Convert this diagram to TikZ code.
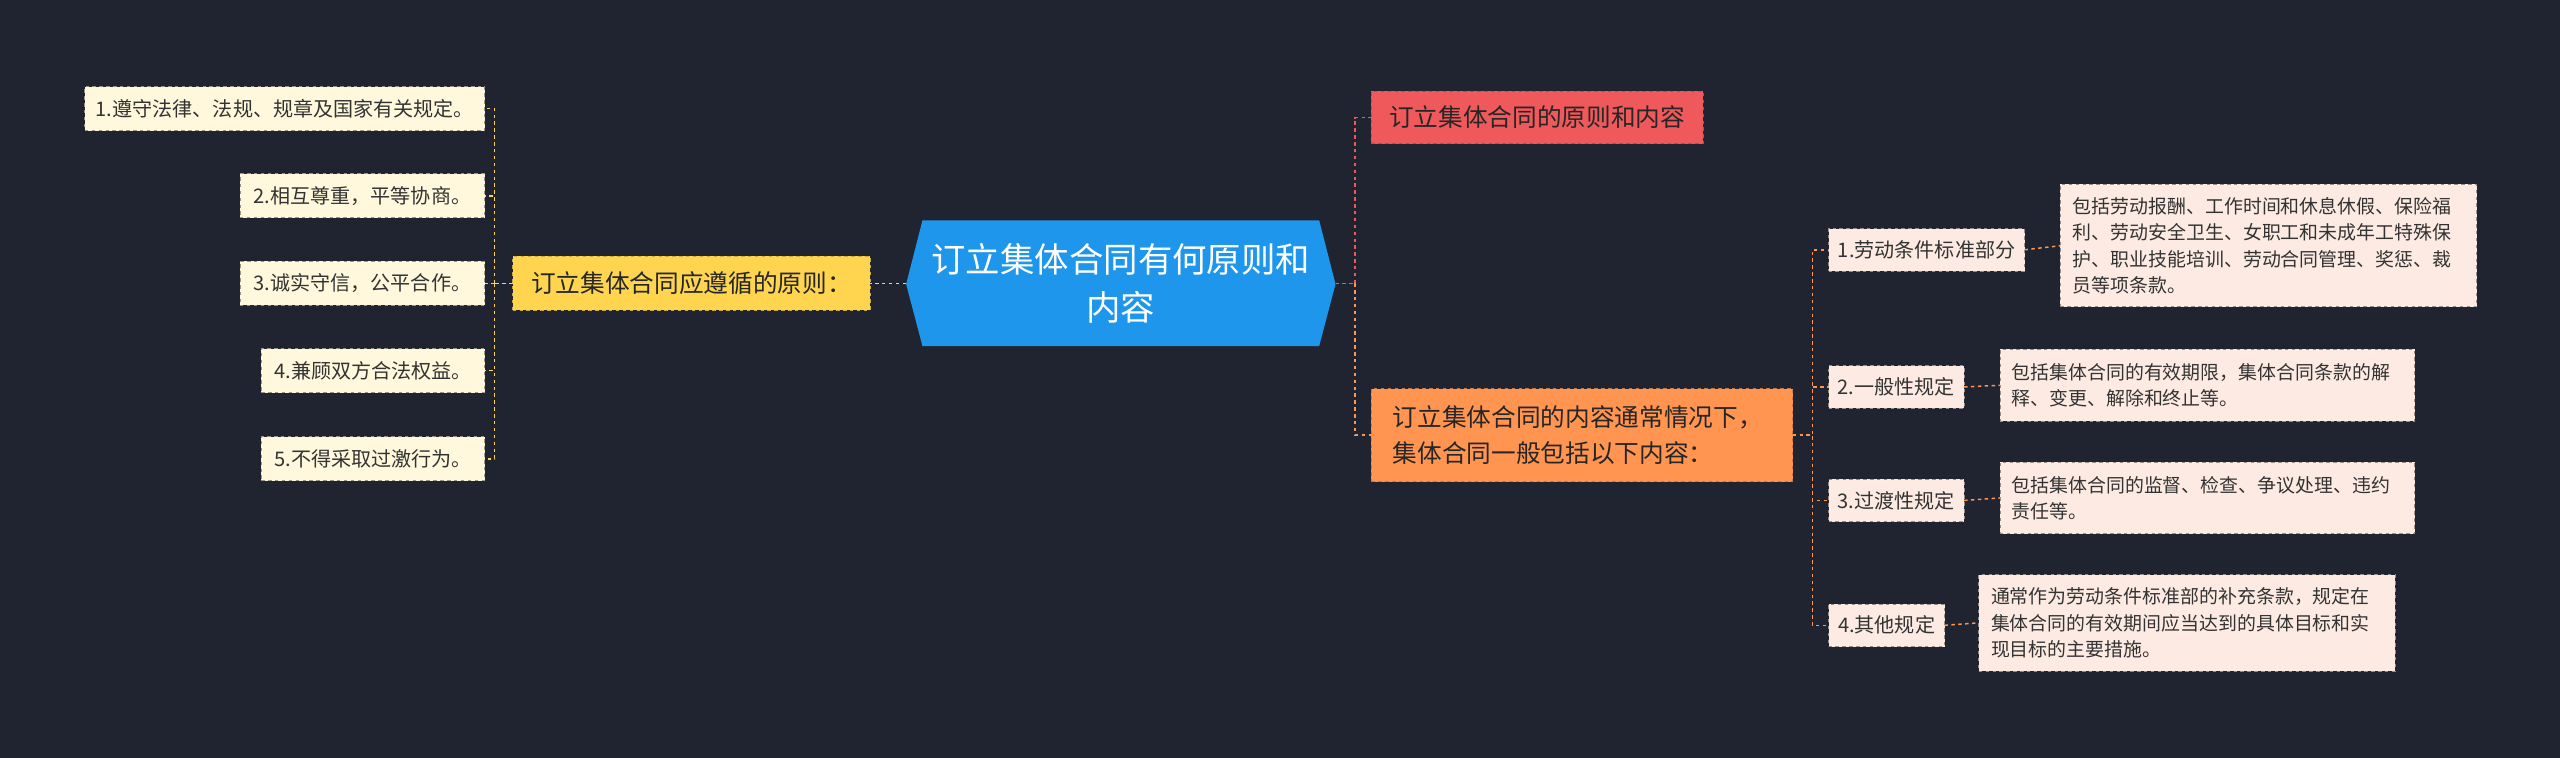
\documentclass[tikz,border=0pt]{standalone}
\usepackage{fontspec}
\newfontfamily\cjk{Noto Sans CJK SC}
\begin{document}
\begin{tikzpicture}[x=0.05cm,y=-0.05cm,
  every node/.style={font=\cjk, inner sep=0pt, outer sep=0pt},
  sz/.style 2 args={minimum width=#1*0.05cm, minimum height=#2*0.05cm},
  leaf/.style={draw=#1!60!black, fill=#1, dashed, line width=0.8pt, text=black!80, font=\cjk\fontsize{17.5pt}{22pt}\selectfont},
  lvl/.style={fill=#1, font=\cjk\fontsize{21.5pt}{32pt}\selectfont, text=black!85, align=left, draw=#1!80!black, dashed},
  conn/.style={draw=#1, dashed, line width=1.3pt}]
\definecolor{bg}{HTML}{1F2430}
\definecolor{lyel}{HTML}{FFF8DC}
\definecolor{yel}{HTML}{FFD54F}
\definecolor{blu}{HTML}{1E96EB}
\definecolor{red}{HTML}{F0595C}
\definecolor{ora}{HTML}{FF9550}
\definecolor{pink}{HTML}{FDEBE3}
\fill[bg] (0,0) rectangle (1568,464);
\useasboundingbox (0,0) rectangle (1568,464);
% center
\fill[blu] (555,174)--(565,135)--(808,135)--(818,174)--(808,212)--(565,212)--cycle;
\node[text=white, align=center, font=\cjk\fontsize{30pt}{42pt}\selectfont, sz={263}{77}] (c) at (686.5,173.5) {订立集体合同有何原则和\\内容};
% left
\node[lvl=yel, sz={219}{33}] (L) at (423.5,173.5) {订立集体合同应遵循的原则：};
\node[leaf=lyel, sz={245}{27}] (l1) at (174.5,66.5) {1.遵守法律、法规、规章及国家有关规定。};
\node[leaf=lyel, sz={150}{27}] (l2) at (222,120) {2.相互尊重，平等协商。};
\node[leaf=lyel, sz={150}{27}] (l3) at (222,173.5) {3.诚实守信，公平合作。};
\node[leaf=lyel, sz={137}{27}] (l4) at (228.5,227) {4.兼顾双方合法权益。};
\node[leaf=lyel, sz={137}{27}] (l5) at (228.5,281) {5.不得采取过激行为。};
\coordinate (lj) at (303,173.5);
\draw[conn=yel] (c.west) -- (L.east);
\draw[conn=yel] (L.west) -- (lj);
\foreach \n in {l1,l2,l3,l4,l5} \draw[conn=yel] (lj) |- (\n.east);
% right
\node[lvl=red, sz={203}{32}] (R1) at (941.5,72) {订立集体合同的原则和内容};
\node[lvl=ora, sz={258}{57}, text width=11.6cm] (R2) at (969,266.5) {订立集体合同的内容通常情况下，\\集体合同一般包括以下内容：};
\coordinate (rj) at (830,173.5);
\draw[conn=red] (c.east) -- (rj);
\draw[conn=red] (rj) |- (R1.west);
\draw[conn=ora] (rj) |- (R2.west);
\node[leaf=pink, sz={120}{26}] (a1) at (1180,153) {1.劳动条件标准部分};
\node[leaf=pink, sz={83}{26}] (a2) at (1161.5,237) {2.一般性规定};
\node[leaf=pink, sz={83}{26}] (a3) at (1161.5,306.5) {3.过渡性规定};
\node[leaf=pink, sz={71}{26}] (a4) at (1155.5,383) {4.其他规定};
\coordinate (oj) at (1110,266.5);
\foreach \n in {a1,a2,a3,a4} \draw[conn=ora] (R2.east) -- (oj) |- (\n.west);
\tikzset{det/.style={leaf=pink, align=left, font=\cjk\fontsize{16.5pt}{23pt}\selectfont, text width=12cm}}
\node[det, sz={255}{75}] (b1) at (1389.5,150.5) {包括劳动报酬、工作时间和休息休假、保险福\\利、劳动安全卫生、女职工和未成年工特殊保\\护、职业技能培训、劳动合同管理、奖惩、裁\\员等项条款。};
\node[det, sz={254}{44}] (b2) at (1352,236) {包括集体合同的有效期限，集体合同条款的解\\释、变更、解除和终止等。};
\node[det, sz={254}{44}] (b3) at (1352,305) {包括集体合同的监督、检查、争议处理、违约\\责任等。};
\node[det, sz={255}{59}] (b4) at (1339.5,381.5) {通常作为劳动条件标准部的补充条款，规定在\\集体合同的有效期间应当达到的具体目标和实\\现目标的主要措施。};
\foreach \i in {1,2,3,4} \draw[conn=ora] (a\i.east) -- (b\i.west);
\end{tikzpicture}
\end{document}
